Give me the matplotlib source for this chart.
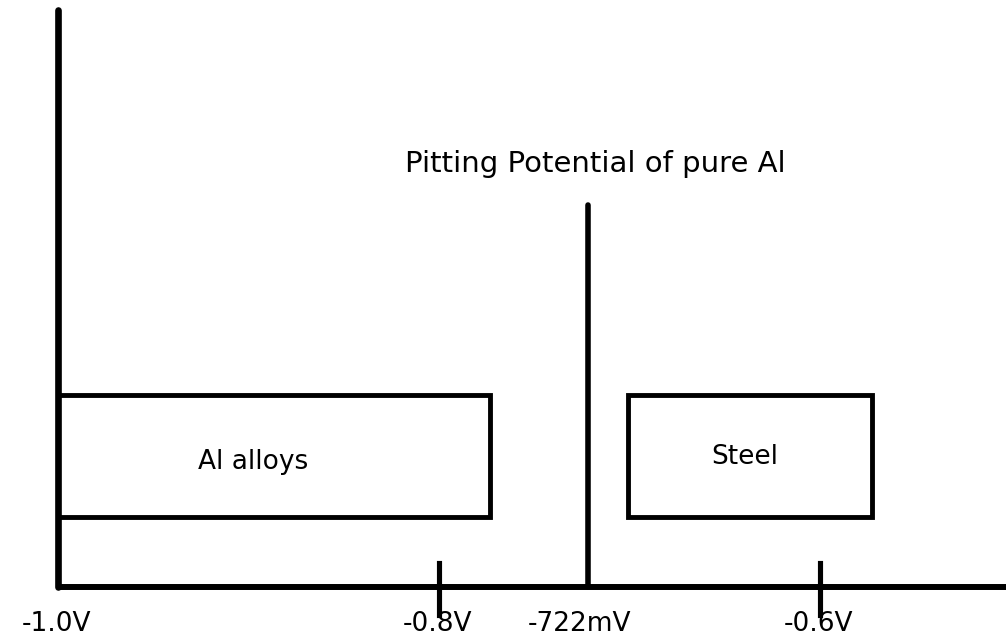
import matplotlib
matplotlib.use("Agg")
import matplotlib.pyplot as plt
from matplotlib.patches import Rectangle

# Data (potentials in V)
tick_values = [-1.0, -0.8, -0.6]
tick_labels = ["-1.0V", "-0.8V", "-0.6V"]
pitting_potential = -0.722
pitting_label = "-722mV"
pitting_title = "Pitting Potential of pure Al"
materials = ["Al alloys", "Steel"]
range_start = [-1.0, -0.7008]
range_end = [-0.7732, -0.5727]

# layout (arbitrary vertical units)
box_bottom, box_top = 70, 192
line_top = 382
axis_top = 577
lw = 4.0

fig = plt.figure(figsize=(10.06, 6.44), dpi=100)
ax = fig.add_axes([0, 0, 1, 1])
ax.set_xlim(-1.0 - 58 / 1905, -1.0 + (1006 - 58) / 1905)
ax.set_ylim(-57, 587)
ax.axis("off")

fs = 19
# axes
ax.plot([-1.0, -0.45], [0, 0], color="black", lw=lw + 0.3, solid_capstyle="butt", clip_on=False)
ax.plot([-1.0, -1.0], [0, axis_top], color="black", lw=lw + 0.8, solid_capstyle="round")

# ticks and labels
for v, lab in zip(tick_values, tick_labels):
    if v != -1.0:
        ax.plot([v, v], [-28, 24], color="black", lw=lw - 0.3)
    ax.text(v - 0.001, -37, lab, ha="center", va="center", fontsize=fs)

# pitting potential line
ax.plot([pitting_potential, pitting_potential], [0, line_top], color="black", lw=lw,
        solid_capstyle="round")
ax.text(pitting_potential - 0.004, -37, pitting_label, ha="center", va="center", fontsize=fs)
ax.text(pitting_potential + 0.004, 415, pitting_title, ha="center", va="baseline", fontsize=21)

# material boxes
label_x = [-0.8976, -0.6394]
label_y = [125, 130]
for s, e, name, lx, ly in zip(range_start, range_end, materials, label_x, label_y):
    ax.add_patch(Rectangle((s, box_bottom), e - s, box_top - box_bottom, fill=False,
                           edgecolor="black", lw=lw - 0.5, joinstyle="miter"))
    ax.text(lx, ly, name, ha="center", va="center", fontsize=fs)

fig.savefig("out.png", dpi=100)
